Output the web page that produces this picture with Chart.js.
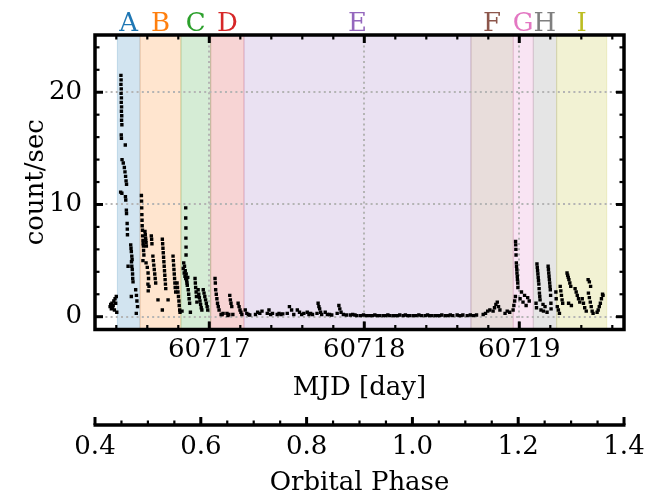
<!DOCTYPE html>
<html>
<head>
<meta charset="utf-8">
<script src="https://cdn.jsdelivr.net/npm/chart.js@4.4.1/dist/chart.umd.min.js"></script>
<style>
  body { margin: 0; background: #fff; }
</style>
</head>
<body>
<canvas id="lc" width="656" height="496"></canvas>
<script>
// light curve: MJD and count rate, one line per orbit / group of points
const mjd = [
  60716.360, 60716.364, 60716.368, 60716.372, 60716.376, 60716.380, 60716.384, 60716.388, 60716.392, 60716.396, 60716.400, 60716.403,
  60716.430, 60716.431, 60716.430, 60716.432, 60716.431, 60716.433, 60716.432, 60716.434, 60716.433, 60716.435, 60716.434, 60716.436, 60716.432, 60716.433, 60716.458,
  60716.437, 60716.445, 60716.452, 60716.456, 60716.460, 60716.463, 60716.466, 60716.428, 60716.436, 60716.459, 60716.461, 60716.465, 60716.466, 60716.470, 60716.471, 60716.472,
  60716.493, 60716.495, 60716.497, 60716.500, 60716.502, 60716.498, 60716.500, 60716.503, 60716.505, 60716.506, 60716.508, 60716.476, 60716.497, 60716.525, 60716.530, 60716.533, 60716.537, 60716.529,
  60716.562, 60716.563, 60716.564, 60716.565, 60716.566, 60716.567, 60716.569, 60716.570, 60716.572, 60716.573, 60716.575, 60716.576, 60716.578, 60716.572,
  60716.585, 60716.587, 60716.589, 60716.590, 60716.592, 60716.594, 60716.592, 60716.600, 60716.605, 60716.608, 60716.604, 60716.606, 60716.611,
  60716.626, 60716.628, 60716.630, 60716.636, 60716.639, 60716.642, 60716.645, 60716.648, 60716.651, 60716.654, 60716.669,
  60716.697, 60716.699, 60716.701, 60716.703, 60716.705, 60716.707, 60716.709, 60716.711, 60716.713, 60716.715, 60716.717, 60716.719, 60716.697, 60716.734,
  60716.766, 60716.768, 60716.770, 60716.772, 60716.774, 60716.776, 60716.778, 60716.780, 60716.783,
  60716.792, 60716.795, 60716.798, 60716.801, 60716.804, 60716.806, 60716.809, 60716.811,
  60716.848, 60716.848, 60716.849, 60716.849, 60716.850, 60716.850,
  60716.832, 60716.835, 60716.838, 60716.840, 60716.843, 60716.845, 60716.848, 60716.851, 60716.854, 60716.856, 60716.858, 60716.861,
  60716.864, 60716.867, 60716.870, 60716.873, 60716.824, 60716.878,
  60716.908, 60716.910, 60716.912, 60716.915, 60716.917, 60716.920,
  60716.928, 60716.932, 60716.936, 60716.940, 60716.944, 60716.948, 60716.952,
  60716.961, 60716.966, 60716.971, 60716.976, 60716.981, 60716.986, 60716.990,
  60717.037, 60717.039, 60717.041, 60717.045, 60717.049, 60717.053, 60717.058, 60717.063,
  60717.076, 60717.083, 60717.089,
  60717.114, 60717.120, 60717.126, 60717.132, 60717.136, 60717.140, 60717.145, 60717.152,
  60717.186, 60717.192, 60717.198, 60717.204, 60717.210,
  60717.232, 60717.242, 60717.252, 60717.261, 60717.298, 60717.312, 60717.326, 60717.340,
  60717.374, 60717.385, 60717.396, 60717.408, 60717.438, 60717.450, 60717.462, 60717.474,
  60717.503, 60717.517, 60717.531, 60717.545, 60717.568, 60717.582, 60717.596, 60717.610,
  60717.632, 60717.643, 60717.654, 60717.666, 60717.695, 60717.702, 60717.707, 60717.712, 60717.718, 60717.725,
  60717.748, 60717.762, 60717.776, 60717.790, 60717.825, 60717.836, 60717.842, 60717.850, 60717.865, 60717.885,
  60717.910, 60717.925, 60717.940, 60717.952, 60717.975, 60717.995, 60718.015, 60718.035,
  60718.052, 60718.068, 60718.084, 60718.100, 60718.122, 60718.137, 60718.152, 60718.165,
  60718.186, 60718.200, 60718.215, 60718.229, 60718.251, 60718.265, 60718.280, 60718.294,
  60718.316, 60718.334, 60718.352, 60718.370, 60718.393, 60718.408, 60718.422, 60718.436,
  60718.457, 60718.472, 60718.486, 60718.500, 60718.522, 60718.539, 60718.555, 60718.571,
  60718.599, 60718.612, 60718.624, 60718.636, 60718.664, 60718.684, 60718.704, 60718.724,
  60718.767, 60718.782, 60718.796, 60718.810,
  60718.831, 60718.840, 60718.849, 60718.858, 60718.866, 60718.875,
  60718.908, 60718.922, 60718.938,
  60718.960, 60718.965, 60718.970, 60718.975,
  60718.976, 60718.977, 60718.978, 60718.979, 60718.981, 60718.982, 60718.984, 60718.985, 60718.987, 60718.988, 60718.990, 60718.991,
  60719.005, 60719.014, 60719.024, 60719.034, 60719.044, 60719.054, 60719.064,
  60719.114, 60719.116, 60719.118, 60719.120, 60719.122, 60719.124, 60719.126, 60719.128, 60719.130, 60719.132, 60719.134,
  60719.108, 60719.111, 60719.140, 60719.153, 60719.156, 60719.166, 60719.179,
  60719.186, 60719.188, 60719.190, 60719.192, 60719.194, 60719.196, 60719.198, 60719.200, 60719.202, 60719.204, 60719.205,
  60719.236, 60719.238,
  60719.245, 60719.252, 60719.259,
  60719.264, 60719.268, 60719.272, 60719.276, 60719.280,
  60719.308, 60719.312, 60719.316, 60719.320, 60719.326, 60719.332, 60719.318, 60719.336,
  60719.360, 60719.367, 60719.374, 60719.382, 60719.390,
  60719.406, 60719.414, 60719.422, 60719.432,
  60719.444, 60719.452, 60719.460, 60719.446, 60719.452, 60719.458, 60719.464, 60719.470, 60719.476,
  60719.502, 60719.509, 60719.516, 60719.523, 60719.530, 60719.537, 60719.540
];
const rate = [
  0.9, 1.1, 0.7, 1.2, 0.8, 1.0, 1.4, 0.6, 1.6, 1.2, 1.8, 0.4,
  21.5, 21.1, 20.7, 20.3, 19.9, 19.5, 19.1, 18.7, 18.3, 17.9, 17.5, 17.1, 16.2, 15.9, 15.3,
  14.0, 13.7, 13.3, 12.9, 12.5, 12.1, 11.8, 11.1, 11.0, 10.7, 10.4, 9.5, 9.2, 8.3, 7.8, 7.3,
  6.4, 6.1, 5.8, 5.4, 5.1, 4.9, 4.5, 4.2, 3.8, 3.4, 3.1, 4.5, 1.8, 2.4, 1.9, 1.4, 0.9, 0.3,
  10.8, 10.3, 9.7, 9.1, 8.6, 8.1, 7.7, 7.2, 6.8, 6.5, 6.3, 5.9, 5.5, 5.0,
  7.6, 7.3, 7.0, 6.8, 6.6, 6.3, 4.8, 4.4, 3.9, 3.4, 2.9, 2.3, 2.7,
  7.2, 6.9, 6.5, 5.4, 5.0, 4.6, 4.2, 3.8, 3.4, 3.0, 1.5,
  6.9, 6.5, 6.1, 5.7, 5.3, 4.9, 4.5, 4.1, 3.7, 3.3, 2.9, 2.5, 0.6, 1.5,
  5.4, 5.0, 4.6, 4.2, 3.8, 3.4, 3.0, 2.6, 2.2,
  3.0, 2.6, 2.2, 1.8, 1.4, 1.0, 0.6, 0.4,
  9.7, 8.8, 7.9, 7.0, 6.2, 5.5,
  4.3, 4.8, 3.9, 4.5, 3.6, 4.1, 3.4, 3.8, 3.2, 3.0, 2.8, 3.5,
  2.4, 2.0, 1.6, 1.2, 0.5, 0.4,
  3.4, 3.0, 2.6, 2.2, 1.8, 1.3,
  2.4, 2.0, 1.7, 1.4, 1.1, 0.8, 0.6,
  2.4, 2.1, 1.8, 1.5, 1.2, 0.9, 0.6,
  3.4, 3.0, 2.4, 2.0, 1.6, 1.2, 0.9, 0.6,
  0.2, 0.2, 0.3,
  0.3, 0.1, 0.2, 1.9, 1.5, 1.2, 0.9, 0.2,
  1.2, 0.9, 0.6, 0.4, 0.2,
  0.6, 0.3, 0.2, 0.15, 0.2, 0.4, 0.3, 0.5,
  0.3, 0.6, 0.2, 0.3, 0.2, 0.3, 0.2, 0.25,
  0.3, 0.9, 0.6, 0.2, 0.6, 0.4, 0.2, 0.3,
  0.4, 0.2, 0.3, 0.2, 0.3, 1.2, 0.9, 0.7, 0.4, 0.2,
  0.4, 0.2, 0.2, 0.15, 0.3, 1.0, 0.7, 0.4, 0.2, 0.15,
  0.15, 0.2, 0.15, 0.1, 0.1, 0.15, 0.1, 0.1,
  0.1, 0.15, 0.1, 0.1, 0.1, 0.1, 0.15, 0.1,
  0.1, 0.1, 0.1, 0.15, 0.1, 0.15, 0.1, 0.1,
  0.1, 0.1, 0.15, 0.1, 0.1, 0.15, 0.1, 0.1,
  0.1, 0.1, 0.1, 0.15, 0.1, 0.1, 0.15, 0.1,
  0.15, 0.1, 0.1, 0.15, 0.1, 0.15, 0.1, 0.15,
  0.2, 0.3, 0.5, 0.6,
  0.5, 0.8, 1.1, 1.3, 0.9, 0.6,
  0.3, 0.5, 0.4,
  0.6, 1.0, 1.4, 1.8,
  6.7, 6.4, 6.0, 5.5, 4.8, 4.5, 4.2, 3.9, 3.6, 3.3, 3.0, 2.6,
  1.6, 2.2, 1.3, 1.9, 1.0, 1.7, 1.4,
  4.7, 4.4, 4.1, 3.8, 3.5, 3.2, 2.9, 2.5, 2.1, 1.8, 1.5,
  1.2, 0.8, 0.6, 1.1, 0.5, 0.9, 0.4,
  4.5, 4.2, 3.9, 3.6, 3.3, 3.0, 2.7, 2.4, 1.9, 1.2, 0.7,
  2.2, 1.6,
  0.9, 0.6, 0.3,
  2.7, 2.3, 1.9, 1.5, 1.2,
  3.9, 3.7, 3.5, 3.3, 3.0, 2.7, 1.2, 1.0,
  2.5, 2.2, 1.9, 1.6, 1.3,
  1.6, 1.2, 0.8, 0.5,
  3.3, 3.1, 2.7, 2.1, 1.7, 1.3, 0.9, 0.5, 0.3,
  0.4, 0.6, 0.9, 1.2, 1.6, 2.0, 1.9
];

// shaded intervals
const regionNames = ['A', 'B', 'C', 'D', 'E', 'F', 'G', 'H', 'I'];
const regionStart = [60716.407, 60716.553, 60716.817, 60717.009, 60717.224, 60718.688, 60718.961, 60719.090, 60719.241];
const regionEnd   = [60716.553, 60716.817, 60717.009, 60717.224, 60718.688, 60718.961, 60719.090, 60719.241, 60719.564];
const regionColors = ['#1f77b4', '#ff7f0e', '#2ca02c', '#d62728', '#9467bd', '#8c564b', '#e377c2', '#7f7f7f', '#bcbd22'];

// axis ranges
const mjdMin = 60716.2626, mjdMax = 60719.6755;
const rateMin = -1.14, rateMax = 25.1;
const phaseMin = 0.4, phaseMax = 1.4;

const FONT = 'DejaVu Serif';
const FS = 26;

function rgba(hex, a) {
  const n = parseInt(hex.slice(1), 16);
  return 'rgba(' + (n >> 16) + ',' + ((n >> 8) & 255) + ',' + (n & 255) + ',' + a + ')';
}

const decor = {
  id: 'decor',
  beforeDraw(chart) {
    const {ctx, chartArea: a, scales: {x}} = chart;
    ctx.save();
    ctx.fillStyle = '#fff';
    ctx.fillRect(0, 0, chart.width, chart.height);
    for (let i = 0; i < regionNames.length; i++) {
      const x0 = x.getPixelForValue(regionStart[i]);
      const x1 = x.getPixelForValue(regionEnd[i]);
      ctx.fillStyle = rgba(regionColors[i], 0.2);
      ctx.fillRect(x0, a.top, x1 - x0, a.bottom - a.top);
      ctx.strokeStyle = rgba(regionColors[i], 0.2);
      ctx.lineWidth = 1;
      ctx.strokeRect(x0, a.top, x1 - x0, a.bottom - a.top);
    }
    ctx.restore();
  },
  afterDraw(chart) {
    const {ctx, chartArea: a, scales: {x, y, x2}} = chart;
    ctx.save();
    ctx.strokeStyle = '#000';
    ctx.lineCap = 'butt';

    function tick(x0, y0, x1, y1, w) {
      ctx.lineWidth = w;
      ctx.beginPath();
      ctx.moveTo(x0, y0);
      ctx.lineTo(x1, y1);
      ctx.stroke();
    }

    // x ticks (inward, top and bottom)
    for (let k = 0; ; k++) {
      const v = Math.round((60716.4 + 0.2 * k) * 10) / 10;
      if (v > mjdMax) break;
      const major = Math.abs(v - Math.round(v)) < 1e-6;
      const len = major ? 8 : 4.5, w = major ? 3 : 2.2;
      const px = x.getPixelForValue(v);
      tick(px, a.bottom, px, a.bottom - len, w);
      tick(px, a.top, px, a.top + len, w);
    }
    // y ticks (inward, left and right)
    for (let v = 0; v <= rateMax; v += 2) {
      const major = v % 10 === 0;
      const len = major ? 8 : 4.5, w = major ? 3 : 2.2;
      const py = y.getPixelForValue(v);
      tick(a.left, py, a.left + len, py, w);
      tick(a.right, py, a.right - len, py, w);
    }
    // frame
    ctx.lineWidth = 3.5;
    ctx.strokeRect(a.left, a.top, a.right - a.left, a.bottom - a.top);

    // orbital phase axis
    const ly = x2.top;
    ctx.lineWidth = 3.5;
    ctx.beginPath();
    ctx.moveTo(x2.left - 1.5, ly);
    ctx.lineTo(x2.right + 1.5, ly);
    ctx.stroke();
    for (let k = 0; k <= 20; k++) {
      const v = phaseMin + 0.05 * k;
      const major = k % 4 === 0;
      const px = x2.getPixelForValue(v);
      tick(px, ly, px, ly - (major ? 8 : 4.5), major ? 3 : 2.2);
    }

    // interval letters
    ctx.font = FS + 'px "' + FONT + '"';
    ctx.textAlign = 'center';
    ctx.textBaseline = 'alphabetic';
    for (let i = 0; i < regionNames.length; i++) {
      const cx = (x.getPixelForValue(regionStart[i]) + x.getPixelForValue(regionEnd[i])) / 2;
      ctx.fillStyle = regionColors[i];
      ctx.fillText(regionNames[i], cx, a.top - 4);
    }
    ctx.restore();
  }
};

const font = {family: FONT, size: FS, lineHeight: 1};

new Chart(document.getElementById('lc'), {
  type: 'scatter',
  data: {
    datasets: [{
      data: mjd.map((m, i) => ({x: m, y: rate[i]})),
      pointStyle: 'rect',
      pointRadius: 2.4,
      pointBorderWidth: 0,
      backgroundColor: '#000',
      borderColor: '#000'
    }]
  },
  options: {
    responsive: false,
    devicePixelRatio: 1,
    animation: false,
    events: [],
    layout: {padding: {top: 35, right: 32, left: 0, bottom: 0}},
    plugins: {legend: {display: false}, tooltip: {enabled: false}},
    scales: {
      x: {
        type: 'linear',
        position: 'bottom',
        min: mjdMin,
        max: mjdMax,
        afterFit: s => { s.height = 95.5; },
        ticks: {
          stepSize: 1,
          includeBounds: false,
          maxRotation: 0,
          padding: 8,
          color: '#000',
          font: font,
          callback: v => String(v)
        },
        grid: {color: '#b4b4b4', lineWidth: 2, drawTicks: false},
        border: {display: false, dash: [2, 3.2]},
        title: {display: true, text: 'MJD [day]', color: '#000', font: font, padding: {top: 0, bottom: 24}}
      },
      x2: {
        type: 'linear',
        position: 'bottom',
        min: phaseMin,
        max: phaseMax,
        afterFit: s => { s.height = 71; },
        ticks: {
          stepSize: 0.2,
          maxRotation: 0,
          autoSkip: false,
          padding: 9,
          color: '#000',
          font: font,
          callback: v => v.toFixed(1)
        },
        grid: {display: false, drawTicks: false},
        border: {display: false},
        title: {display: true, text: 'Orbital Phase', color: '#000', font: font, padding: {top: 0, bottom: 0}}
      },
      y: {
        type: 'linear',
        min: rateMin,
        max: rateMax,
        afterFit: s => { s.width = 95; },
        ticks: {
          stepSize: 10,
          includeBounds: false,
          padding: 13,
          color: '#000',
          font: font
        },
        grid: {color: '#b4b4b4', lineWidth: 2, drawTicks: false},
        border: {display: false, dash: [2, 3.2]},
        title: {display: true, text: 'count/sec', color: '#000', font: font, padding: {top: 23, bottom: 0}}
      }
    }
  },
  plugins: [decor]
});
</script>
</body>
</html>
